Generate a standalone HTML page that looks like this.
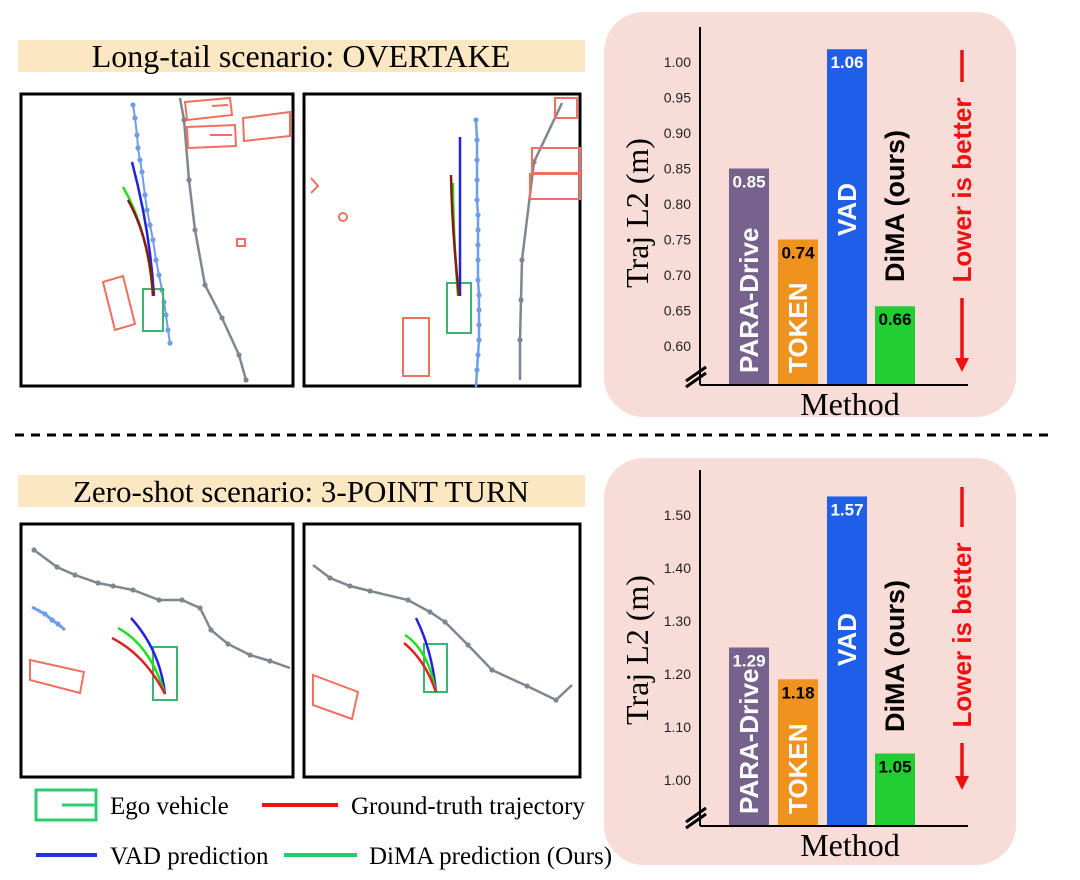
<!DOCTYPE html>
<html><head><meta charset="utf-8"><style>
body{margin:0;background:#fff;width:1080px;height:880px;overflow:hidden}
svg{display:block}
.serif{font-family:"Liberation Serif",serif}
.sans{font-family:"Liberation Sans",sans-serif}
</style></head><body>
<svg id="fig" width="1080" height="880" viewBox="0 0 1080 880">
<defs>
<marker id="dB" markerWidth="6" markerHeight="6" refX="3" refY="3" markerUnits="userSpaceOnUse"><circle cx="3" cy="3" r="2.6" fill="#6f9de8"/></marker>
<marker id="dG" markerWidth="6" markerHeight="6" refX="3" refY="3" markerUnits="userSpaceOnUse"><circle cx="3" cy="3" r="2.6" fill="#7e8790"/></marker>
</defs>
<rect x="18" y="40" width="567" height="32" fill="#fbe8c2"/>
<text x="301" y="67" text-anchor="middle" class="serif" font-size="32">Long-tail scenario: OVERTAKE</text>
<rect x="18" y="475" width="567" height="32" fill="#fbe8c2"/>
<text x="301" y="502" text-anchor="middle" class="serif" font-size="31">Zero-shot scenario: 3-POINT TURN</text>
<line x1="15" y1="435" x2="1048" y2="435" stroke="#000" stroke-width="3" stroke-dasharray="9,7"/>

<g>
<rect x="21" y="94" width="272" height="292" fill="#fff" stroke="#000" stroke-width="3"/>
<polyline points="133,105 135,118 137,135 138,148 140,160 142,172 145,195 147,210 150,225 153,240 156,260 159,275 162,290 164,302 166,315 168,330 170,343" fill="none" stroke="#6f9de8" stroke-width="2" marker-start="url(#dB)" marker-mid="url(#dB)" marker-end="url(#dB)"/>
<polyline points="180,98 184,120 189,180 195,230 205,285 222,318 239,355 246,380" fill="none" stroke="#7e8790" stroke-width="2.5" marker-mid="url(#dG)" marker-end="url(#dG)"/>
<g fill="none" stroke="#f07060" stroke-width="2">
<polygon points="185,102 230,98 232,115 187,120"/><polygon points="187,127 235,125 236,146 188,148"/><polygon points="243,118 290,112 290,136 244,141"/>
<rect x="237" y="239" width="8" height="7"/><polygon points="103,282 123,276 135,324 115,330"/>
<line x1="212" y1="106" x2="228" y2="105"/><line x1="210" y1="135" x2="232" y2="135"/>
</g>
<rect x="143" y="289" width="20" height="42" fill="none" stroke="#3cb371" stroke-width="2"/>
<path d="M154,296 Q150,230 132,162" fill="none" stroke="#2222dd" stroke-width="2.5"/>
<path d="M153,296 Q148,230 123,187" fill="none" stroke="#22dd22" stroke-width="2.5"/>
<path d="M153,296 Q150,240 128,200" fill="none" stroke="#8b1a10" stroke-width="2.5"/>
</g>
<g>
<rect x="304" y="94" width="276" height="292" fill="#fff" stroke="#000" stroke-width="3"/>
<polyline points="476,120 477,140 477,160 477,180 477,200 478,215 478,230 478,245 478,260 478,280 479,295 479,310 479,325 479,340 478,355 477,370 476,387" fill="none" stroke="#6f9de8" stroke-width="2.5" marker-start="url(#dB)" marker-mid="url(#dB)"/>
<polyline points="562,103 534,162 522,260 521,300 520,340 520,380" fill="none" stroke="#7e8790" stroke-width="2.5" marker-mid="url(#dG)"/>
<g fill="none" stroke="#f07060" stroke-width="2">
<rect x="532" y="148" width="48" height="25"/><rect x="530" y="174" width="50" height="25"/>
<rect x="403" y="318" width="26" height="58"/><rect x="555" y="98" width="22" height="20"/>
<polyline points="311,178 318,186 311,193"/><circle cx="343" cy="217" r="4"/>
</g>
<rect x="447" y="283" width="24" height="50" fill="none" stroke="#3cb371" stroke-width="2"/>
<line x1="460" y1="296" x2="460" y2="137" stroke="#2222dd" stroke-width="2.5"/>
<path d="M458,296 Q453,230 453,183" fill="none" stroke="#22dd22" stroke-width="2.5"/>
<path d="M459,296 Q452,230 451,175" fill="none" stroke="#8b1a10" stroke-width="2.5"/>
</g>
<g>
<rect x="21" y="524" width="272" height="253" fill="#fff" stroke="#000" stroke-width="3"/>
<polyline points="34,550 57,567 75,575 98,583 113,586 133,590 159,600 182,600 200,608 211,630 228,644 250,655 270,661 290,668" fill="none" stroke="#7e8790" stroke-width="2.5" marker-start="url(#dG)" marker-mid="url(#dG)"/>
<polyline points="32,607 45,614 52,620 58,624 65,630" fill="none" stroke="#6f9de8" stroke-width="3" marker-mid="url(#dB)"/>
<polygon points="30,660 84,672 80,693 30,680" fill="none" stroke="#f07060" stroke-width="2"/>
<rect x="153" y="647" width="24" height="53" fill="none" stroke="#3cb371" stroke-width="2"/>
<path d="M165,694 Q160,650 131,618" fill="none" stroke="#2222dd" stroke-width="2.5"/>
<path d="M165,694 Q150,645 118,628" fill="none" stroke="#22dd22" stroke-width="2.5"/>
<path d="M165,694 Q145,655 112,638" fill="none" stroke="#dd2222" stroke-width="2.5"/>
</g>
<g>
<rect x="304" y="524" width="276" height="253" fill="#fff" stroke="#000" stroke-width="3"/>
<polyline points="313,565 330,578 350,586 370,591 408,600 430,612 445,622 468,645 492,670 527,686 556,700 572,685" fill="none" stroke="#7e8790" stroke-width="2.5" marker-mid="url(#dG)"/>
<polygon points="313,675 358,692 352,719 313,705" fill="none" stroke="#f07060" stroke-width="2"/>
<rect x="424" y="644" width="23" height="48" fill="none" stroke="#3cb371" stroke-width="2"/>
<path d="M436,692 Q432,650 416,618" fill="none" stroke="#2222dd" stroke-width="2.5"/>
<path d="M436,692 Q428,650 405,635" fill="none" stroke="#22dd22" stroke-width="2.5"/>
<path d="M436,692 Q425,660 404,643" fill="none" stroke="#dd2222" stroke-width="2.5"/>
</g>

<g>
<g><rect x="36" y="790" width="60" height="30" fill="none" stroke="#2ecc71" stroke-width="3"/><line x1="62" y1="805" x2="96" y2="805" stroke="#2ecc71" stroke-width="3"/>
<text x="110" y="814" class="serif" font-size="25">Ego vehicle</text></g>
<g><line x1="262" y1="805" x2="338" y2="805" stroke="#ee1111" stroke-width="4"/>
<text x="351" y="814" class="serif" font-size="25">Ground-truth trajectory</text></g>
<g><line x1="36" y1="855" x2="97" y2="855" stroke="#2233dd" stroke-width="4"/>
<text x="110" y="864" class="serif" font-size="25">VAD prediction</text></g>
<g><line x1="284" y1="855" x2="357" y2="855" stroke="#22cc66" stroke-width="4"/>
<text x="369" y="864" class="serif" font-size="25">DiMA prediction (Ours)</text></g>
</g>
<g id="charts"></g>
</svg>
<script>
const methods = ["PARA-Drive","TOKEN","VAD","DiMA (ours)"];
const barColors = ["#76628c","#f0921e","#1f5ee8","#22cc33"];
const labelColors = ["#fff","#fff","#fff","#000"];
const valueColors = ["#fff","#000","#fff","#000"];
const values1 = [0.85, 0.74, 1.06, 0.66];
const plotted1 = [0.85, 0.75, 1.018, 0.656];
const ticks1 = [0.60,0.65,0.70,0.75,0.80,0.85,0.90,0.95,1.00];
const values2 = [1.29, 1.18, 1.57, 1.05];
const plotted2 = [1.25, 1.19, 1.535, 1.05];
const ticks2 = [1.00,1.10,1.20,1.30,1.40,1.50];

const NS="http://www.w3.org/2000/svg";
function mk(tag, attrs, parent){const e=document.createElementNS(NS,tag);for(const k in attrs)e.setAttribute(k,attrs[k]);parent.appendChild(e);return e;}
const root=document.getElementById('charts');

function chart(cfg){
  const g=mk('g',{},root);
  
  
  const bg=mk('rect',{x:604,y:cfg.boxY,width:412,height:cfg.boxH,rx:40,fill:"#f8dcd8"},g);
  
  
  const y=v=>cfg.y0+(v-cfg.v0)*(cfg.y1-cfg.y0)/(cfg.v1-cfg.v0);
  const ax=700, base=cfg.base;
  cfg.ticks.forEach(t=>{
    const tl=mk('text',{x:691,y:y(t)+5,"text-anchor":"end","font-size":14,class:"sans",fill:"#222"},g);
    tl.textContent=t.toFixed(2);
    
    
  });
  const bx=[729,778,827,875], bw=40;
  cfg.plotted.forEach((p,i)=>{
    const top=y(p);
    const r=mk('rect',{x:bx[i],y:top,width:bw,height:base-top,fill:barColors[i]},g);
    
    
    const vt=mk('text',{x:bx[i]+bw/2,y:top+19,"text-anchor":"middle","font-size":17,"font-weight":"bold",class:"sans",fill:valueColors[i]},g);
    vt.textContent=cfg.values[i].toFixed(2);
    
    
    let ly, lx=bx[i]+bw/2+9, fs=26;
    if(i===3){ly=cfg.dimaY;fs=27;}else if(i===2){ly=cfg.vadY;}else{ly=base-12;}
    const lt=mk('text',{x:lx,y:ly,"font-size":fs,"font-weight":"bold",class:"sans",fill:labelColors[i],transform:`rotate(-90 ${lx} ${ly})`},g);
    lt.textContent=methods[i];
    
    
  });
  mk('line',{x1:ax,y1:cfg.axTop,x2:ax,y2:base,stroke:"#000","stroke-width":2},g);
  mk('line',{x1:ax,y1:base,x2:968,y2:base,stroke:"#000","stroke-width":2},g);
  mk('line',{x1:686,y1:base-4,x2:706,y2:base-18,stroke:"#000","stroke-width":3},g);
  mk('line',{x1:686,y1:base+2,x2:706,y2:base-12,stroke:"#000","stroke-width":3},g);
  const cy=cfg.yTitle;
  const yt=mk('text',{x:648,y:cy,"text-anchor":"middle","font-size":32,class:"serif",transform:`rotate(-90 648 ${cy})`},g);
  yt.textContent="Traj L2 (m)";
  
  
  const xt=mk('text',{x:850,y:base+30,"text-anchor":"middle","font-size":32,class:"serif"},g);
  xt.textContent="Method";
  
  
  const ax2=962;
  mk('line',{x1:ax2,y1:cfg.arrTop,x2:ax2,y2:cfg.arrBot-10,stroke:"#ee1111","stroke-width":3.5},g);
  mk('polygon',{points:`${ax2-7},${cfg.arrBot-14} ${ax2+7},${cfg.arrBot-14} ${ax2},${cfg.arrBot}`,fill:"#ee1111"},g);
  const mid=cfg.lowerY;
  mk('rect',{x:ax2-14,y:mid-108,width:28,height:216,fill:"#f8dcd8"},g);
  const lb=mk('text',{x:ax2+9,y:mid,"text-anchor":"middle","font-size":26,"font-weight":"bold",class:"sans",fill:"#ee1111",transform:`rotate(-90 ${ax2+9} ${mid})`},g);
  lb.textContent="Lower is better";
  
  
}
chart({name:"chart-overtake",boxY:12,boxH:405,v0:1.0,y0:62,v1:0.6,y1:346,base:385,axTop:27,ticks:ticks1,values:values1,plotted:plotted1,dimaY:282,vadY:236,arrTop:50,arrBot:372,lowerY:190,yTitle:213});
chart({name:"chart-3point",boxY:458,boxH:407,v0:1.5,y0:515,v1:1.0,y1:780,base:826,axTop:470,ticks:ticks2,values:values2,plotted:plotted2,dimaY:732,vadY:666,arrTop:487,arrBot:790,lowerY:635,yTitle:650});
</script>
</body></html>
